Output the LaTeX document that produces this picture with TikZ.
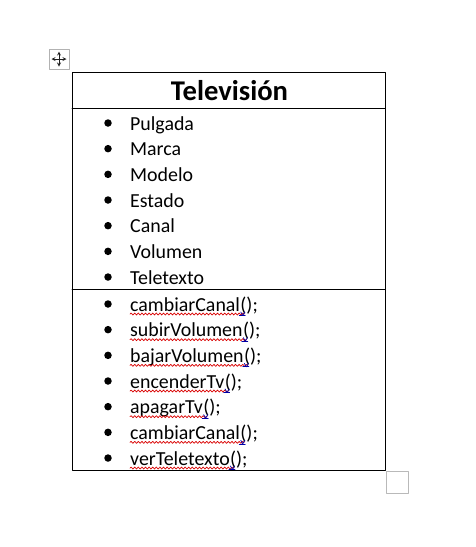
\documentclass[tikz,border=0pt]{standalone}
\usepackage{fontspec}
\setmainfont{Carlito}
\usetikzlibrary{arrows}
\usetikzlibrary{decorations.pathmorphing}
\tikzset{
  item/.style={anchor=base west, inner sep=0pt, font=\fontsize{19.9}{24}\selectfont},
  bul/.style={circle, fill=black, inner sep=0pt, minimum size=7.5pt},
  spell/.style={color=red!85!black, line width=0.7pt, decorate, decoration={snake, segment length=3.6pt, amplitude=1pt}},
  fix/.style={color=blue!65!black, line width=0.7pt},
}

\begin{document}
\begin{tikzpicture}[line cap=round,line join=round,>=stealth,x=1pt,y=-1pt]
\useasboundingbox (0,0) rectangle (475,547);
% table frame
\draw [line width=0.8pt] (72,72) rectangle (385,470);
\draw [line width=0.8pt] (72,108)--(385,108);
\draw [line width=0.8pt] (72,289)--(385,289);
\node[anchor=base, inner sep=0pt, font=\bfseries\fontsize{28.6}{32}\selectfont] (title) at (229.5,100) {Televisión};
% attributes
\foreach \txt [count=\i] in {Pulgada,Marca,Modelo,Estado,Canal,Volumen,Teletexto}{
  \node[bul] (b\i) at (108,{123+25.67*(\i-1)}) {};
  \node[item] (a\i) at (130,{130+25.67*(\i-1)}) {\txt};
}
% methods
\foreach \txt [count=\i] in {cambiarCanal,subirVolumen,bajarVolumen,encenderTv,apagarTv,cambiarCanal,verTeletexto}{
  \node[bul] (c\i) at (108,{304+25.67*(\i-1)}) {};
  \node[item] (m\i) at (130,{311+25.67*(\i-1)}) {\txt};
  \node[item] (p\i) at (m\i.base east) {();};
  \draw[spell] ([yshift=-3pt]m\i.base west) -- ([xshift=4pt,yshift=-3pt]m\i.base east);
  \draw[fix] ([xshift=-1pt,yshift=-4.5pt]m\i.base east) -- ++(6,0);
  \draw[fix] ([xshift=0.5pt,yshift=-1pt]m\i.base east) -- ++(2,3.5) -- ++(2,-3.5);
}
% word handles
\draw [color=gray!60, line width=0.8pt, fill=white] (49,49) rectangle (69,69);
\draw [<->, color=gray!25!black, line width=0.8pt] (51.5,59)--(66.5,59);
\draw [<->, color=gray!25!black, line width=0.8pt] (59,51.5)--(59,66.5);
\draw [color=gray!55, line width=1pt, fill=white] (386,471) rectangle (408,493);
\end{tikzpicture}
\end{document}
